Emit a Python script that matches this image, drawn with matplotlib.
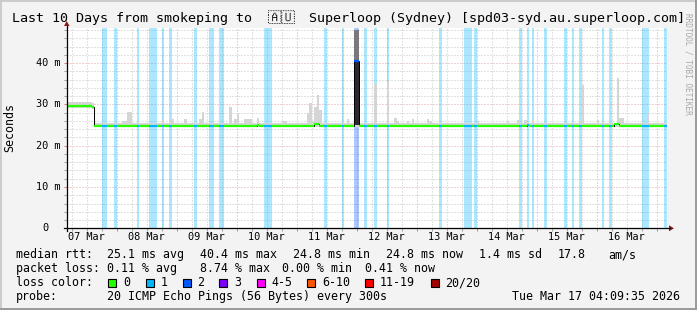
import matplotlib
matplotlib.use("Agg")
import matplotlib.pyplot as plt
import matplotlib.transforms as mtransforms
from matplotlib.patches import Polygon, Rectangle
from matplotlib.lines import Line2D
from matplotlib import font_manager
from matplotlib.ft2font import FT2Font
import numpy as np

W, H = 697, 310
MONO = ["DejaVu Sans Mono"]
plt.rcParams['font.family'] = MONO

# ---------------- data ----------------
title_left = "Last 10 Days from smokeping to "
title_flag = "\U0001F1E6\U0001F1FA"
title_flag_hex = ["01F\n1E6", "01F\n1FA"]
title_right = " Superloop (Sydney) [spd03-syd.au.superloop.com]"
y_label = "Seconds"
watermark = "RRDTOOL / TOBI OETIKER"

n_hours = 240                       # hourly bins, hour 0 = 07 Mar 04:00
x_start, x_end = 0.16, 240.16       # 07 Mar 04:09:35 .. 17 Mar 04:09:35
day_labels = ["07 Mar", "08 Mar", "09 Mar", "10 Mar", "11 Mar",
              "12 Mar", "13 Mar", "14 Mar", "15 Mar", "16 Mar"]
day_label_hours = [8, 32, 56, 80, 104, 128, 152, 176, 200, 224]     # noon
midnight_hours = [20, 44, 68, 92, 116, 140, 164, 188, 212, 236]
y_tick_values = [0, 10, 20, 30, 40]
y_tick_labels = ["0", "10 m", "20 m", "30 m", "40 m"]
y_max = 48.5

# median rtt (ms): runs and deviations
median_runs = [(0, 10, 29.6), (10, 11, 29.3), (11, 240, 24.8)]
median_dev_h = [76, 99, 100, 115, 116, 184, 219, 220]
median_dev_v = [25.1, 25.2, 25.2, 40.4, 40.4, 25.1, 25.2, 25.2]

# smoke (ms): runs (start, end, low, high) and peak highs
smoke_runs = [(0, 10, 29.2, 30.6), (10, 11, 29.0, 30.3), (11, 240, 24.6, 25.6)]
smoke_peak_h = [22, 23, 24, 25, 38, 41, 42, 47, 53, 54, 65, 67, 68, 71, 72, 73,
                76, 86, 87, 96, 97, 98, 99, 100, 101, 112, 123, 128, 131, 132,
                136, 138, 144, 145, 164, 176, 180, 183, 186, 205, 206, 212,
                220, 221, 222, 232]
smoke_peak_v = [26.0, 26.0, 28.1, 28.1, 26.2, 26.4, 26.4, 26.5, 26.5, 28.1,
                29.4, 26.5, 27.7, 26.5, 26.5, 26.5, 26.6, 26.0, 25.9, 28.0,
                30.3, 26.0, 29.3, 32.3, 28.6, 26.5, 34.9, 35.7, 26.8, 26.0,
                26.0, 26.5, 26.5, 25.9, 26.0, 25.9, 26.2, 26.2, 26.2, 26.0,
                34.7, 26.2, 36.3, 26.8, 26.8, 28.0]
spike_h = [115, 116]
spike_outer = [48.0, 48.0]
spike_inner = [40.5, 40.5]

# lost pings per hour (others 0)
loss_h = [14, 15, 19, 28, 33, 34, 35, 38, 41, 51, 57, 58, 61, 62, 79, 80, 81,
          103, 110, 115, 116, 119, 123, 128, 149, 159, 160, 161, 163, 181, 184,
          186, 191, 199, 202, 205, 214, 217, 230, 231, 232, 239]
loss_v = [1] * 19 + [2, 2] + [1] * 21

loss_names = ["0", "1", "2", "3", "4-5", "6-10", "11-19", "20/20"]
loss_colors = ["#26ff00", "#00b8ff", "#0059ff", "#7e00ff", "#ff00ff",
               "#ff5500", "#ff0000", "#a10000"]

row1 = ["median rtt:", "25.1 ms avg", "40.4 ms max", "24.8 ms min",
        "24.8 ms now", "1.4 ms sd", "17.8", "am/s"]
row2 = ["packet loss:", "0.11 % avg", "8.74 % max", "0.00 % min", "0.41 % now"]
row3_head = "loss color:"
row4 = ["probe:", "20 ICMP Echo Pings (56 Bytes) every 300s"]
date_text = "Tue Mar 17 04:09:35 2026"

# ---------------- build series ----------------
hours = np.arange(n_hours)
median = np.zeros(n_hours)
for a, b, v in median_runs:
    median[a:b] = v
median[median_dev_h] = median_dev_v
smoke_lo = np.zeros(n_hours)
smoke_hi = np.zeros(n_hours)
for a, b, lo, hi in smoke_runs:
    smoke_lo[a:b] = lo
    smoke_hi[a:b] = hi
smoke_hi[smoke_peak_h] = smoke_peak_v
loss = np.zeros(n_hours, dtype=int)
loss[loss_h] = loss_v

# find an installed family with the regional-indicator glyphs (if any)
flag_family = None
for fe in font_manager.fontManager.ttflist:
    try:
        ft = FT2Font(fe.fname)
        if all(ft.get_char_index(ord(c)) for c in title_flag):
            flag_family = fe.name
            break
    except Exception:
        pass

# ---------------- figure ----------------
BG = "#f3f3f3"
fig = plt.figure(figsize=(W / 100, H / 100), dpi=100, facecolor=BG)

def fx(px):
    return px / W

def fy(py):
    return 1 - py / H

L, R, T, B = 67, 667, 28, 228.3
ax = fig.add_axes([fx(L), fy(B), fx(R - L), (B - T) / H])
ax.set_xlim(x_start, x_end)
ax.set_ylim(0, y_max)
ax.set_facecolor("white")
for s in ax.spines.values():
    s.set_visible(False)

MINOR_C = "#c4c4c4"
MAJOR_C = "#e3a4a4"
dot = (0, (1, 2))
# grid
for h in np.arange(2, 241, 6):
    if h in midnight_hours:
        continue
    ax.axvline(h, color=MINOR_C, lw=0.72, ls=dot, zorder=0.5)
for h in midnight_hours:
    ax.axvline(h, color=MAJOR_C, lw=0.72, ls=dot, zorder=0.6)
for v in np.arange(2, y_max, 2):
    if v % 10 == 0:
        ax.axhline(v, color=MAJOR_C, lw=0.72, ls=dot, zorder=0.6)
    else:
        ax.axhline(v, color=MINOR_C, lw=0.72, ls=dot, zorder=0.5)

# ticks (grid stubs outside the plot)
ax.set_xticks(midnight_hours)
ax.set_xticks([h for h in np.arange(2, 241, 6) if h not in midnight_hours], minor=True)
ax.set_yticks(y_tick_values)
ax.set_yticks([v for v in np.arange(2, y_max, 2) if v % 10], minor=True)
ax.tick_params(which="major", length=2, width=0.72, color="#d08080",
               labelbottom=False, labelleft=False)
ax.tick_params(which="minor", length=2, width=0.72, color="#a0a0a0")

# loss background bands
for h, lv in zip(loss_h, loss_v):
    ax.axvspan(h, h + 1, color=loss_colors[lv], alpha=0.33, lw=0, zorder=1)

# smoke
ax.bar(hours, smoke_hi - smoke_lo, bottom=smoke_lo, width=1.0, align="edge",
       color="#d5d5d5", lw=0, zorder=2)
ax.bar(spike_h, np.array(spike_outer) - 24.9, bottom=24.9, width=1.0,
       align="edge", color="#7a7a7a", lw=0, zorder=2.1)
ax.bar(spike_h, np.array(spike_inner) - 24.9, bottom=24.9, width=1.0,
       align="edge", color="#2b2b2b", lw=0, zorder=2.2)

# median: thin black step + coloured segments
edges = np.arange(n_hours + 1)
ax.stairs(median, edges, baseline=None, color="black", lw=0.72, zorder=3)
ax.hlines(median, hours, hours + 1, colors=[loss_colors[l] for l in loss],
          lw=1.6, zorder=4)

# axis lines + arrows (figure pixel coords)
ARROW = "#8b1a1a"
fig.add_artist(Line2D([fx(L - 0.3), fx(L - 0.3)], [fy(B + 3), fy(T - 2)],
                      color="black", lw=0.9))
fig.add_artist(Line2D([fx(L - 3), fx(R + 3)], [fy(B), fy(B)],
                      color="black", lw=0.9))
fig.add_artist(Polygon([(fx(L - 3), fy(T - 2)), (fx(L + 2.5), fy(T - 2)),
                        (fx(L - 0.3), fy(T - 7))], closed=True,
                       color=ARROW, lw=0))
fig.add_artist(Polygon([(fx(R + 2), fy(B - 3)), (fx(R + 2), fy(B + 3)),
                        (fx(R + 7), fy(B))], closed=True, color=ARROW, lw=0))

# axis labels
trans_y = mtransforms.blended_transform_factory(fig.transFigure, ax.transData)
for v, lab in zip(y_tick_values, y_tick_labels):
    xpos = 42.3 if lab == "0" else 36
    fig.text(fx(xpos), v, lab, transform=trans_y, ha="left", va="center",
             fontsize=7.4, family=MONO)
trans_x = mtransforms.blended_transform_factory(ax.transData, fig.transFigure)
for h, lab in zip(day_label_hours, day_labels):
    ax.text(h, fy(237.5), lab, transform=trans_x, ha="center", va="center",
            fontsize=7.4, family=MONO)
fig.text(fx(10), fy(127.5), y_label, rotation=90, ha="center", va="center",
         fontsize=8.4, family=MONO)

# title
TY = fy(18.5)
fig.text(fx(12), TY, title_left, ha="left", va="center", fontsize=9.65, family=MONO)
if flag_family is not None:
    fig.text(fx(281.5), TY, title_flag, ha="center", va="center",
             fontsize=9.65, family=MONO + [flag_family])
else:
    # no installed family has these symbols: draw them as the hex boxes
    # shown in the reference
    for bx, hx in zip([262.5, 282.7], title_flag_hex):
        fig.add_artist(Rectangle((fx(bx), fy(25.3)), fx(18), 10.3 / H,
                                 facecolor="none", edgecolor="black", lw=0.8))
        fig.text(fx(bx + 9), fy(20.2), hx, ha="center", va="center",
                 fontsize=3.6, linespacing=1.05, family=MONO)
fig.text(fx(301), TY, title_right, ha="left", va="center", fontsize=9.65,
         family=MONO)

# watermark
fig.text(fx(688), fy(64), watermark, rotation=270, ha="center", va="center",
         fontsize=5.6, color="#a8a8a8", family=MONO)

# legend
LF = 8.4
r1x = [16.3, 107.3, 200, 293, 386, 479.3, 558, 608.3]
for x, t in zip(r1x, row1):
    fig.text(fx(x), fy(254.5), t, ha="left", va="center", fontsize=LF, family=MONO)
r2x = [16.3, 107.3, 200, 282, 365]
for x, t in zip(r2x, row2):
    fig.text(fx(x), fy(268.5), t, ha="left", va="center", fontsize=LF, family=MONO)
fig.text(fx(16.3), fy(282.5), row3_head, ha="left", va="center", fontsize=LF,
         family=MONO)
sqx = [108.3, 145.7, 182.7, 219.3, 256.7, 307.3, 365, 430.7]
for x, name, c in zip(sqx, loss_names, loss_colors):
    fig.add_artist(Rectangle((fx(x), fy(286.5)), fx(8), 8 / H, facecolor=c,
                             edgecolor="black", lw=0.8))
    fig.text(fx(x + 14.5), fy(282.5), name, ha="left", va="center",
             fontsize=LF, family=MONO)
fig.text(fx(16.3), fy(296.5), row4[0], ha="left", va="center", fontsize=LF,
         family=MONO)
fig.text(fx(107.3), fy(296.5), row4[1], ha="left", va="center", fontsize=LF,
         family=MONO)
fig.text(fx(680.5), fy(296.5), date_text, ha="right", va="center", fontsize=LF,
         family=MONO)

# 3D frame
fig.add_artist(Line2D([0, 1], [fy(0.5), fy(0.5)], color="#cbcbcb", lw=1.4))
fig.add_artist(Line2D([fx(0.5), fx(0.5)], [0, 1], color="#cbcbcb", lw=1.4))
fig.add_artist(Line2D([0, 1], [fy(309), fy(309)], color="#999999", lw=1.4))
fig.add_artist(Line2D([fx(696), fx(696)], [0, 1], color="#999999", lw=1.4))

fig.savefig("out.png", dpi=100, facecolor=BG)
